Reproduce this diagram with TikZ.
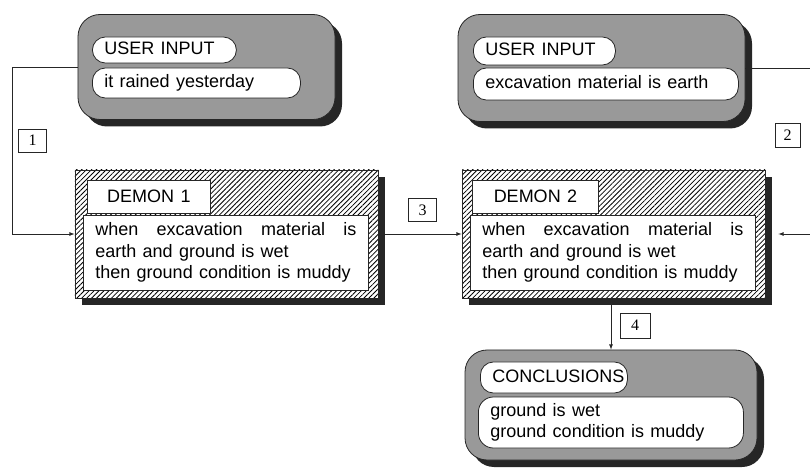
\documentclass[tikz,border=0pt]{standalone}
\usepackage{fontspec}
\setmainfont{Liberation Sans}
\newfontfamily\tagfont{Liberation Serif}
\usetikzlibrary{patterns.meta,shadows}
\newcommand\boxfont{\fontsize{18bp}{21.5bp}\selectfont}
\begin{document}
\begin{tikzpicture}[x=1bp,y=-1bp,>=latex,font=\boxfont,
  execute at begin node={\spaceskip=.35em plus .3em minus .05em\relax}]
\def\sh{7bp}
\tikzset{base/.style={draw=black!85,line width=.8bp},
panel/.style={base,fill=black!40,rounded corners=22bp,general shadow={fill=black!85,shadow xshift=\sh,shadow yshift=-\sh}},
pill/.style={base,fill=white,rounded corners=13bp,anchor=west,inner xsep=12bp,inner ysep=0pt,text height=13bp,text depth=4bp,align=left},
demon/.style={base,general shadow={fill=black!85,shadow xshift=\sh,shadow yshift=-\sh},preaction={fill=white},
  pattern={Lines[angle=45,distance=3.5bp,line width=.8bp]}},
head/.style={base,fill=white,anchor=west,minimum width=123bp,minimum height=33bp},
body/.style={base,fill=white,anchor=west,inner xsep=12bp,align=left,text width=261bp,minimum height=75bp},
tag/.style={base,fill=white,font=\tagfont\fontsize{16bp}{16bp}\selectfont,minimum width=28bp,minimum height=23bp,inner sep=0pt}}
\useasboundingbox (0,0) rectangle (810,469);
\clip (0,0) rectangle (810,469);
% user inputs
\node[panel,minimum width=257bp,minimum height=105bp] (IN1) at (206.5,67) {};
\node[pill,text width=120bp,minimum height=26bp] (IN1T) at (92,50) {USER INPUT};
\node[pill,text width=184bp,minimum height=30bp] (IN1V) at (92,83) {it rained yesterday};
\node[panel,minimum width=287bp,minimum height=107bp] (IN2) at (601.5,68) {};
\node[pill,text width=118bp,minimum height=28bp] (IN2T) at (473,51) {USER INPUT};
\node[pill,text width=241bp,minimum height=32bp] (IN2V) at (473,84) {excavation material is earth};
% demons
\node[demon,minimum width=303bp,minimum height=128bp] (D1) at (226.5,234) {};
\node[head] (D1T) at (87,196.5) {DEMON 1};
\node[body] (D1B) at (83,252.5) {\makebox[261bp][s]{when excavation material is}\\earth and ground is wet\\then ground condition is muddy};
\node[demon,minimum width=303bp,minimum height=128bp] (D2) at (613.5,234) {};
\node[head,minimum width=126bp] (D2T) at (472,196.5) {DEMON 2};
\node[body] (D2B) at (470,252.5) {\makebox[261bp][s]{when excavation material is}\\earth and ground is wet\\then ground condition is muddy};
% conclusions
\node[panel,minimum width=292bp,minimum height=110bp] (RES) at (611,405) {};
\node[pill,text width=123bp,minimum height=31bp] (REST) at (480,377.5) {CONCLUSIONS};
\node[pill,rounded corners=15bp,text width=241bp,minimum height=51bp,text height=,text depth=] (RESV) at (478,422.5) {ground is wet\\ground condition is muddy};
% steps
\node[tag] (T1) at (32.5,140.5) {1};
\node[tag,minimum width=25bp,minimum height=24bp] (T2) at (787.5,135) {2};
\node[tag] (T3) at (422.5,210) {3};
\node[tag,minimum width=30bp,minimum height=25bp] (T4) at (635,325.5) {4};
\draw[base,->] (IN1.west) -- ++(-65,0) |- (D1.west);
\draw[base,->] (IN2.east) -- ++(80,0) |- ([xshift=13bp]D2.east);
\draw[base,->] (D1.east) -- (D2.west);
\draw[base,->] (RES.north |- D2.south) -- (RES.north);
\end{tikzpicture}
\end{document}
